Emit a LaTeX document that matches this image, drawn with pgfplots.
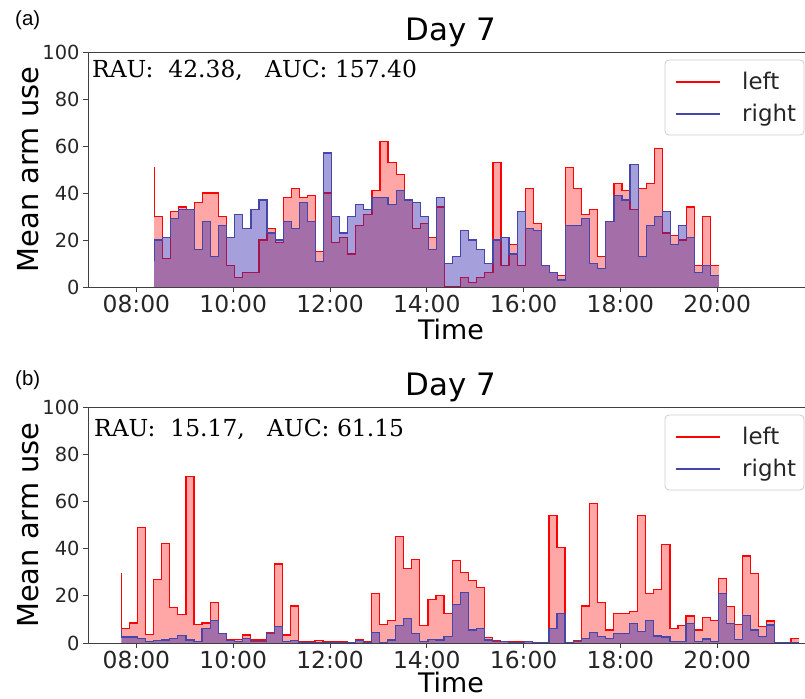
\documentclass[border=0pt]{standalone}
\usepackage{pgfplots}
\pgfplotsset{compat=1.18}
\usepackage{pgfplotstable}
\usepackage{fontspec}
\setmainfont{DejaVu Sans}
\newfontfamily\rauf{DejaVu Serif}
\newfontfamily\arialf{Liberation Sans}
\definecolor{lineblue}{RGB}{70,70,170}
\definecolor{fillblue}{RGB}{55,45,175}
\definecolor{legred}{RGB}{255,0,0}

% top panel: k = bin end index (10-minute bins), L = left, R = right
\pgfplotstableread{
k L R
0 51 11
1 30 20
2 12 21
3 32 29
4 34 33
5 33 33
6 36 16
7 40 28
8 40 13
9 30 26
10 9 21
11 4 31
12 6 25
13 6 33
14 20 37
15 25 23
16 19 20
17 38 28
18 42 25
19 38 36
20 39 28
21 15 11
22 40 57
23 19 30
24 21 23
25 14 30
26 26 35
27 31 33
28 41 38
29 62 38
30 53 35
31 48 41
32 37 37
33 25 36
34 27 30
35 21 16
36 34 38
37 0 10
38 0 13
39 4 24
40 2 20
41 4 16
42 6 10
43 53 20
44 9 21
45 18 14
46 9 32
47 42 25
48 27 24
49 9 9
50 6 6
51 5 3
52 51 26
53 42 26
54 31 29
55 33 10
56 13 8
57 28 28
58 44 39
59 41 37
60 33 52
61 42 13
62 44 26
63 59 30
64 23 32
65 22 18
66 20 26
67 34 21
68 9 6
69 30 9
70 9 5
}\topdata

% bottom panel
\pgfplotstableread{
k L R
0 29.5 6
1 6 2.5
2 8.5 2.5
3 49 2
4 3.5 0.5
5 27 1
6 42 1.3
7 15 2
8 12 3.2
9 70.5 1.3
10 8 0.5
11 8.5 6
12 17 9.5
13 4 4
14 1.3 1
15 1.5 0.5
16 3.4 2
17 1.3 0.5
18 1.3 0.5
19 4.4 4
20 33.5 7
21 3.4 0.5
22 15.7 1
23 0.6 0.3
24 0.5 0.3
25 0.9 0.3
26 0.5 0.3
27 0.5 0.3
28 0.5 0.3
29 0.3 0.3
30 1.3 1
31 0.5 0.3
32 21 4.6
33 8 0.3
34 9.7 1.3
35 45 7.3
36 31.4 10.4
37 35.5 4.1
38 7.3 0.5
39 18.5 1.5
40 20 1.3
41 12.6 2.7
42 35 16.3
43 30 21.3
44 26.4 5.5
45 23.6 6.2
46 2.3 1.3
47 0.9 0.5
48 0.5 0.5
49 0.5 0.3
50 0.5 0.3
51 0.5 0.5
52 0.3 0.3
53 0.3 0.3
54 54 6.2
55 40.4 12.6
56 0.2 0.2
57 0.9 0.5
58 15.7 2
59 59 4.4
60 17 2.7
61 5.5 2
62 12.6 4.1
63 12.5 4
64 13.3 8.3
65 54 5
66 21 9.7
67 22.8 3
68 41.6 2.5
69 6 0.5
70 7.3 0.5
71 11.4 8.3
72 5.5 0.5
73 10.9 1.7
74 9.7 0.5
75 27.4 21
76 15.3 8.3
77 8 1.5
78 36.9 11.8
79 29.5 5.5
80 7 2.7
81 9.3 7.6
82 0.3 0.2
83 0.3 0.2
84 2 0.2
}\botdata

\pgfplotsset{
  panel/.style={
    scale only axis, width=726bp, height=235bp,
    xmin=7, xmax=22, ymin=0, ymax=100,
    xtick={8,10,12,14,16,18,20},
    xticklabels={08:00,10:00,12:00,14:00,16:00,18:00,20:00},
    ytick={0,20,40,60,80,100},
    tick pos=left, tick align=outside,
    major tick length=5bp,
    /pgf/number format/assume math mode=true,
    yticklabel style={font=\fontsize{19.5}{22}\selectfont, text=black!85},
    xticklabel style={font=\fontsize{23.5}{26}\selectfont, text=black!85},
    axis line style={black!75, line width=0.8bp},
    every tick/.style={black!75, line width=0.8bp},
    xlabel={Time}, ylabel={Mean arm use},
    xlabel style={font=\fontsize{27}{30}\selectfont, at={(axis description cs:0.5,-0.18)}, anchor=center},
    ylabel style={font=\fontsize{29}{32}\selectfont, at={(axis description cs:-0.083,0.5)}, anchor=center},
    title={Day 7},
    title style={font=\fontsize{31}{34}\selectfont, at={(axis description cs:0.5,1)}, anchor=base, yshift=6bp},
  },
  mylegend/.code={},
}
% legend box drawn as plain decoration inside each axis (top-right corner)
\newcommand{\panellegend}{%
  \draw[draw=black!20, fill=white, rounded corners=4pt, line width=0.8bp]
    ([xshift=-149bp,yshift=-8bp]rel axis cs:1,1) rectangle ([xshift=-10bp,yshift=-83bp]rel axis cs:1,1);
  \draw[legred, line width=1.4bp]
    ([xshift=-138bp,yshift=-30bp]rel axis cs:1,1) -- ([xshift=-94bp,yshift=-30bp]rel axis cs:1,1);
  \draw[lineblue, line width=1.4bp]
    ([xshift=-138bp,yshift=-62bp]rel axis cs:1,1) -- ([xshift=-94bp,yshift=-62bp]rel axis cs:1,1);
  \node[anchor=base west, inner sep=0, font=\fontsize{23}{27}\selectfont, text=black!85]
    at ([xshift=-72bp,yshift=-38bp]rel axis cs:1,1) {left};
  \node[anchor=base west, inner sep=0, font=\fontsize{23}{27}\selectfont, text=black!85]
    at ([xshift=-72bp,yshift=-70bp]rel axis cs:1,1) {right};
}

\begin{document}
\begin{tikzpicture}[x=1bp,y=1bp]
\useasboundingbox (0,0) rectangle (805,699);
\node[anchor=base west, inner sep=0, font=\arialf\fontsize{20.5}{24}\selectfont] at (15,673) {(a)};
\node[anchor=base west, inner sep=0, font=\arialf\fontsize{20.5}{24}\selectfont] at (15,313) {(b)};

\begin{axis}[panel, at={(88bp,412bp)}, anchor=south west]
\addplot[draw=none, fill=red, fill opacity=0.35, const plot mark right]
  table[x expr=8.3667+\thisrow{k}/6, y=L] {\topdata} \closedcycle;
\addplot[legred, line width=1.2bp, const plot mark right]
  table[x expr=8.3667+\thisrow{k}/6, y=L] {\topdata};
\addplot[draw=none, fill=fillblue, fill opacity=0.45, const plot mark right]
  table[x expr=8.3667+\thisrow{k}/6, y=R] {\topdata} \closedcycle;
\addplot[lineblue, line width=1.2bp, const plot mark right]
  table[x expr=8.3667+\thisrow{k}/6, y=R] {\topdata};
\node[anchor=base west, inner sep=0, font=\rauf\fontsize{23.5}{28}\selectfont]
  at ([xshift=4bp, yshift=-26bp]rel axis cs:0,1) {RAU:\ \ 42.38,\ \ \ AUC:\ 157.40};
\panellegend
\end{axis}

\begin{axis}[panel, at={(88bp,56bp)}, anchor=south west, height=236bp,
  xlabel style={at={(axis description cs:0.5,-0.168)}}]
\addplot[draw=none, fill=red, fill opacity=0.35, const plot mark right]
  table[x expr=7.69+\thisrow{k}/6, y=L] {\botdata} \closedcycle;
\addplot[legred, line width=1.2bp, const plot mark right]
  table[x expr=7.69+\thisrow{k}/6, y=L] {\botdata};
\addplot[draw=none, fill=fillblue, fill opacity=0.45, const plot mark right]
  table[x expr=7.69+\thisrow{k}/6, y=R] {\botdata} \closedcycle;
\addplot[lineblue, line width=1.2bp, const plot mark right]
  table[x expr=7.69+\thisrow{k}/6, y=R] {\botdata};
\node[anchor=base west, inner sep=0, font=\rauf\fontsize{23.5}{28}\selectfont]
  at ([xshift=6bp, yshift=-30bp]rel axis cs:0,1) {RAU:\ \ 15.17,\ \ \ AUC:\ 61.15};
\panellegend
\end{axis}
\end{tikzpicture}
\end{document}
